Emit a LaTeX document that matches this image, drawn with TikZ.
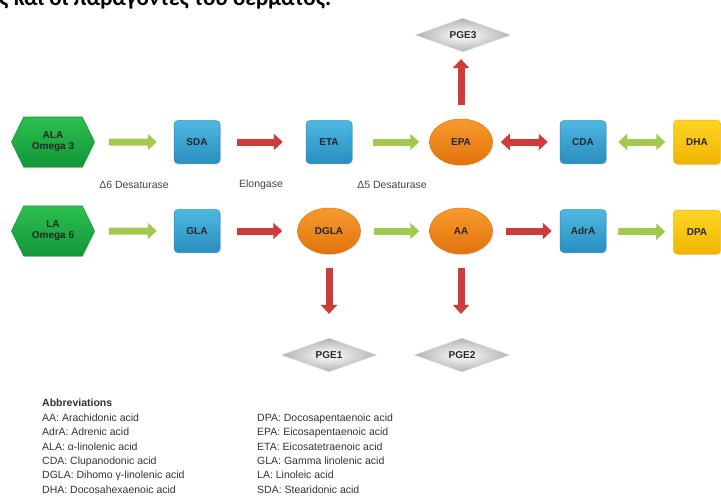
\documentclass[tikz,border=0pt]{standalone}
\usepackage{fontspec}
\setmainfont{Liberation Sans}
\newfontfamily\greekfont{Carlito}
\usetikzlibrary{arrows.meta,shapes.geometric,shapes.symbols,shadows}
\definecolor{hexgreen}{HTML}{2CC04E}
\definecolor{hexgreenD}{HTML}{12963A}
\definecolor{boxblue}{HTML}{4DB8E2}
\definecolor{boxblueD}{HTML}{2A8DBE}
\definecolor{ellorange}{HTML}{F79A2E}
\definecolor{ellorangeD}{HTML}{E2730C}
\definecolor{boxyellow}{HTML}{FFD526}
\definecolor{boxyellowD}{HTML}{EFB400}
\definecolor{arrgreen}{HTML}{A2C84E}
\definecolor{arrred}{HTML}{CF3B3B}
\definecolor{labgray}{HTML}{444444}
\tikzset{
  lbl/.style={font=\bfseries\fontsize{10}{12}\selectfont, text=black!85},
  hexnode/.style={lbl, signal, signal to=east and west, signal pointer angle=128,
    minimum width=83pt, minimum height=50pt, inner sep=0pt, align=center,
    top color=hexgreen, bottom color=hexgreenD, draw=hexgreenD, line width=0.6pt,
    drop shadow={opacity=0.2, shadow xshift=1pt, shadow yshift=-1.2pt}},
  bluebox/.style={lbl, rectangle, rounded corners=4pt, minimum width=46pt, minimum height=43pt,
    inner sep=0pt, top color=boxblue, bottom color=boxblueD, draw=boxblueD, line width=0.5pt,
    drop shadow={opacity=0.2, shadow xshift=1pt, shadow yshift=-1.2pt}},
  yelbox/.style={lbl, rectangle, rounded corners=4pt, minimum width=47pt, minimum height=44pt,
    inner sep=0pt, top color=boxyellow, bottom color=boxyellowD, draw=boxyellowD, line width=0.5pt,
    drop shadow={opacity=0.2, shadow xshift=1pt, shadow yshift=-1.2pt}},
  orell/.style={lbl, ellipse, minimum width=63pt, minimum height=46pt, inner sep=0pt,
    top color=ellorange, bottom color=ellorangeD, draw=ellorangeD, line width=0.5pt,
    drop shadow={opacity=0.2, shadow xshift=1pt, shadow yshift=-1.2pt}},
  pgenode/.style={lbl, diamond, minimum width=95pt, minimum height=32pt, inner sep=0pt,
    shading=radial, inner color=white, outer color=gray!60, draw=gray!30, line width=0.4pt},
  greenarr/.style={draw=arrgreen, line width=7pt, -{Triangle[length=9pt,width=16pt]}},
  redarr/.style={draw=arrred, line width=7pt, -{Triangle[length=9pt,width=16pt]}},
  greenbi/.style={draw=arrgreen, line width=7pt, {Triangle[length=9pt,width=16pt]}-{Triangle[length=9pt,width=16pt]}},
  redbi/.style={draw=arrred, line width=7pt, {Triangle[length=9pt,width=16pt]}-{Triangle[length=9pt,width=16pt]}},
  enzyme/.style={font=\fontsize{10.5}{12}\selectfont, text=labgray},
  abbr/.style={font=\fontsize{10.5}{14.4}\selectfont, text=black!80, align=left, anchor=north west, inner sep=0pt}
}
\begin{document}
\begin{tikzpicture}[x=1pt,y=-1pt]
\useasboundingbox (0,0) rectangle (721,499);
\clip (0,0) rectangle (721,499);
\fill[white] (0,0) rectangle (721,499);

% cropped heading line (only its lower part lies inside the picture)
\node[anchor=base west, inner sep=0pt, font=\greekfont\bfseries\fontsize{23}{26}\selectfont] (head) at (-1,5.5) {ς και οι παράγοντες του δέρματος.};

% row 1
\node[hexnode] (ALA) at (53,142) {ALA\\[-1pt]Omega 3};
\node[bluebox] (SDA) at (197,142) {SDA};
\node[bluebox] (ETA) at (329,142) {ETA};
\node[orell] (EPA) at (461,142) {EPA};
\node[bluebox] (CDA) at (583,142) {CDA};
\node[yelbox] (DHA) at (697,142) {DHA};

% row 2
\node[hexnode] (LA) at (53,231) {LA\\[-1pt]Omega 6};
\node[bluebox] (GLA) at (197,231) {GLA};
\node[orell] (DGLA) at (329,231) {DGLA};
\node[orell] (AA) at (461,231) {AA};
\node[bluebox] (AdrA) at (583,231) {AdrA};
\node[yelbox] (DPA) at (697,232) {DPA};

% prostaglandins
\node[pgenode] (PGE3) at (463,35) {PGE3};
\node[pgenode] (PGE1) at (329,355) {PGE1};
\node[pgenode] (PGE2) at (462,355) {PGE2};

% enzyme labels
\node[enzyme] (d6) at (134,185) {Δ6 Desaturase};
\node[enzyme] (elo) at (261,185) {Elongase};
\node[enzyme] (d5) at (392,185) {Δ5 Desaturase};

% row 1 arrows
\draw[greenarr, shorten <=14pt, shorten >=17pt] (ALA) -- (SDA);
\draw[redarr, shorten <=17pt, shorten >=23pt] (SDA) -- (ETA);
\draw[greenarr, shorten <=21pt, shorten >=10pt] (ETA) -- (EPA);
\draw[redbi, shorten <=8pt, shorten >=12pt] (EPA) -- (CDA);
\draw[greenbi, shorten <=12pt, shorten >=8pt] (CDA) -- (DHA);

% row 2 arrows
\draw[greenarr, shorten <=14pt, shorten >=17pt] (LA) -- (GLA);
\draw[redarr, shorten <=17pt, shorten >=15pt] (GLA) -- (DGLA);
\draw[greenarr, shorten <=13pt, shorten >=10pt] (DGLA) -- (AA);
\draw[redarr, shorten <=13pt, shorten >=8pt] (AA) -- (AdrA);
\draw[greenarr, shorten <=12pt, shorten >=8pt] (AdrA) -- (DPA);

% vertical arrows
\draw[redarr, shorten <=14pt, shorten >=7pt] (EPA) -- (EPA |- PGE3.south);
\draw[redarr, shorten <=14pt, shorten >=24pt] (DGLA) -- (PGE1);
\draw[redarr, shorten <=14pt, shorten >=24pt] (AA) -- (AA |- PGE2.north);

% abbreviations
\node[abbr] (abbL) at (42,399) {\textbf{Abbreviations}\\
AA: Arachidonic acid\\
AdrA: Adrenic acid\\
ALA: α-linolenic acid\\
CDA: Clupanodonic acid\\
DGLA: Dihomo γ-linolenic acid\\
DHA: Docosahexaenoic acid};
\node[abbr] (abbR) at (257,413.4) {DPA: Docosapentaenoic acid\\
EPA: Eicosapentaenoic acid\\
ETA: Eicosatetraenoic acid\\
GLA: Gamma linolenic acid\\
LA: Linoleic acid\\
SDA: Stearidonic acid};
\end{tikzpicture}
\end{document}
